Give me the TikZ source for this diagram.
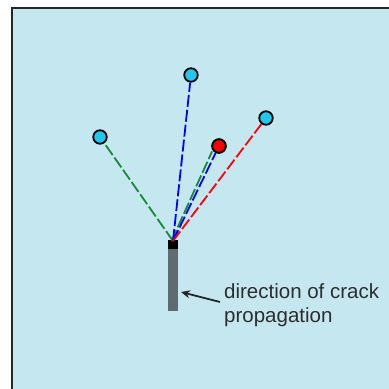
\documentclass[tikz,border=0pt]{standalone}
\usepackage{fontspec}
\setmainfont{Liberation Sans}
\usetikzlibrary{arrows.meta}
\definecolor{panel}{RGB}{197,232,240}
\definecolor{dotcyan}{RGB}{30,200,240}
\definecolor{crackgray}{RGB}{95,107,112}
\definecolor{labelgray}{RGB}{45,45,45}
\definecolor{pathgreen}{RGB}{20,140,50}
\tikzset{
  site/.style={circle, draw=black, line width=1.8pt, minimum size=13.5pt, inner sep=0pt},
  trail/.style={line width=1.8pt, dash pattern=on 12pt off 3pt},
}
\begin{document}
\begin{tikzpicture}[x=1pt, y=-1pt]
  \useasboundingbox (0,0) rectangle (389,389);
  \begin{scope}
    \clip (0,0) rectangle (389,389);
    \draw[fill=panel, draw=black!85, line width=2.2pt] (12,8) rectangle (420,420);
  \end{scope}
  % crack body and tip
  \fill[crackgray] (168,249) rectangle (178,311);
  \fill[black] (168,240) rectangle (178,249);
  \coordinate (tip) at (173,241);
  % candidate sites
  \node[site, fill=dotcyan] (left) at (100,137) {};
  \node[site, fill=dotcyan] (top) at (191,75) {};
  \node[site, fill=dotcyan] (right) at (266,118) {};
  \node[site, fill=red] (mid) at (219,146) {};
  % trial paths
  \draw[trail, pathgreen] (tip) -- (left);
  \draw[trail, pathgreen] ([xshift=-1.5pt]tip) -- ([xshift=-1.5pt]mid.south west);
  \draw[trail, blue] (tip) -- (top);
  \draw[trail, blue] (tip) -- (mid);
  \draw[trail, red] (tip) -- (right);
  \node[site, fill=red] at (mid) {};
  % label
  \node[anchor=north west, align=left, text=labelgray, font=\fontsize{20.5}{24}\selectfont, inner sep=0pt] (lbl) at (224,283) {direction of crack\\propagation};
  \coordinate (arrowtail) at (220,302);
  \coordinate (arrowhead) at (181,292);
  \draw[-{Stealth[length=9pt,width=8pt]}, line width=1.8pt, black!85] (arrowtail) -- (arrowhead);
\end{tikzpicture}
\end{document}
